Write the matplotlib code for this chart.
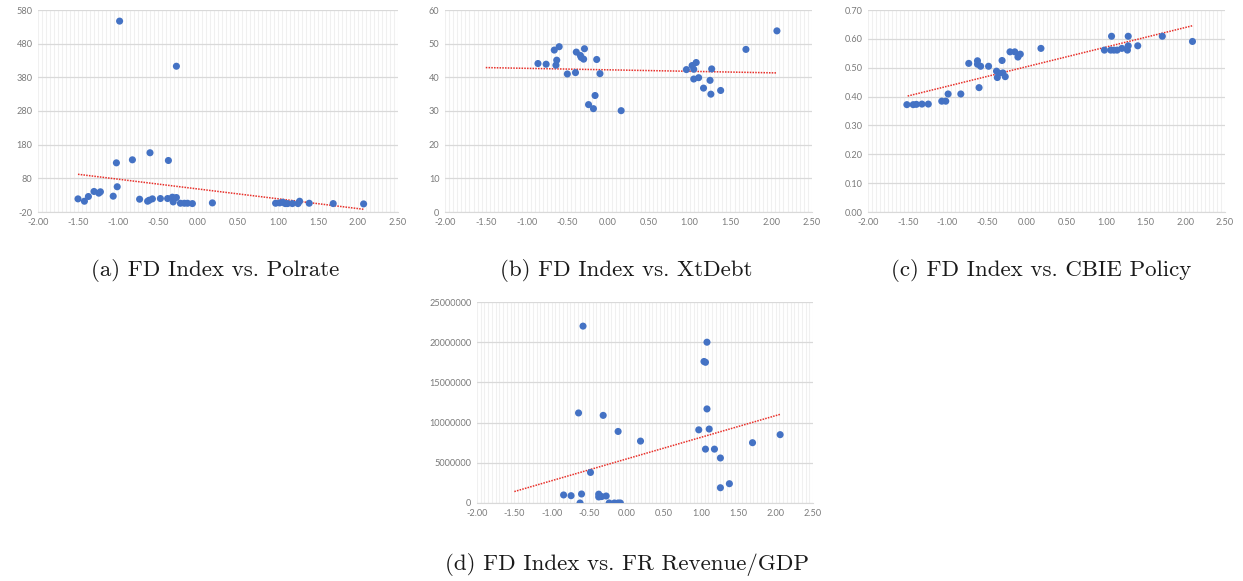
import numpy as np
import matplotlib
matplotlib.use("Agg")
import matplotlib.pyplot as plt
from matplotlib.ticker import MultipleLocator, FixedLocator, FormatStrFormatter, FuncFormatter

# FD Index (x) against four policy variables

polrate_x = [-1.50, -1.42, -1.37, -1.30, -1.24, -1.22, -1.06, -1.01, -1.02, -0.98, -0.82, -0.73,
             -0.63, -0.61, -0.57, -0.60, -0.47, -0.38, -0.37, -0.32, -0.27, -0.31, -0.27, -0.22,
             -0.17, -0.13, -0.07, 0.18, 0.97, 1.02, 1.06, 1.09, 1.12, 1.18, 1.25, 1.27, 1.39,
             1.69, 2.07]
polrate_y = [19, 12, 26, 41, 36, 40, 27, 55, 126, 547, 135, 18,
             12, 15, 19, 156, 20, 20, 133, 24, 23, 10, 413, 6,
             6, 6, 5, 7, 6, 7, 9, 5, 5, 5, 5, 12, 6,
             5, 4]

xtdebt_x = [-0.86, -0.76, -0.66, -0.60, -0.63, -0.64, -0.50, -0.40, -0.39, -0.34, -0.33, -0.30,
            -0.29, -0.24, -0.18, -0.16, -0.14, -0.10, 0.16, 0.96, 1.03, 1.05, 1.08, 1.05,
            1.11, 1.17, 1.25, 1.27, 1.26, 1.38, 1.69, 2.07]
xtdebt_y = [44.1, 43.9, 48.1, 49.1, 45.1, 43.6, 41.0, 41.4, 47.5, 46.5, 45.9, 45.4,
            48.5, 31.9, 30.7, 34.6, 45.3, 41.1, 30.1, 42.3, 43.5, 42.4, 44.4, 39.5,
            39.9, 36.8, 39.1, 42.5, 35.0, 36.1, 48.3, 53.8]

cbie_x = [-1.51, -1.43, -1.39, -1.32, -1.24, -1.07, -1.02, -0.99, -0.83, -0.73, -0.62, -0.62,
          -0.58, -0.60, -0.48, -0.38, -0.37, -0.35, -0.31, -0.30, -0.27, -0.21, -0.15, -0.11,
          -0.08, 0.18, 0.98, 1.06, 1.07, 1.10, 1.14, 1.20, 1.27, 1.28, 1.28, 1.40, 1.71, 2.09]
cbie_y = [0.372, 0.372, 0.373, 0.374, 0.374, 0.384, 0.384, 0.409, 0.409, 0.515, 0.524, 0.512,
          0.505, 0.431, 0.505, 0.488, 0.466, 0.481, 0.525, 0.482, 0.469, 0.555, 0.555, 0.537,
          0.547, 0.567, 0.561, 0.561, 0.609, 0.561, 0.561, 0.567, 0.561, 0.609, 0.576, 0.576,
          0.609, 0.591]

revenue_x = [-0.84, -0.74, -0.64, -0.62, -0.60, -0.58, -0.48, -0.37, -0.37, -0.33, -0.31, -0.27,
             -0.23, -0.16, -0.11, -0.08, -0.11, 0.19, 0.97, 1.04, 1.06, 1.08, 1.08, 1.06,
             1.11, 1.18, 1.26, 1.26, 1.38, 1.69, 2.06]
revenue_y = [1000000, 910000, 11200000, 0, 1120000, 22000000, 3800000, 1100000, 750000, 800000,
             10900000, 870000, 0, 0, 0, 0, 8900000, 7700000, 9100000, 17600000, 17500000,
             20000000, 11700000, 6700000, 9200000, 6700000, 5600000, 1900000, 2400000,
             7500000, 8500000]

captions = ["(a) FD Index vs. Polrate", "(b) FD Index vs. XtDebt",
            "(c) FD Index vs. CBIE Policy", "(d) FD Index vs. FR Revenue/GDP"]

W, H = 1243, 581
fig = plt.figure(figsize=(W / 100, H / 100), dpi=100)

BLUE = "#4472C4"
TEXT = "#7a7a7a"
trend_start = min(polrate_x)


def px_axes(left, top, right, bottom):
    return fig.add_axes([left / W, 1 - bottom / H, (right - left) / W, (bottom - top) / H])


def excel_scatter(ax, x, y, ylim, ystep, yfmt):
    ax.set_xlim(-2.0, 2.5)
    ax.set_ylim(*ylim)
    ax.xaxis.set_major_locator(MultipleLocator(0.5))
    ax.xaxis.set_minor_locator(MultipleLocator(0.05))
    ax.yaxis.set_major_locator(FixedLocator(np.arange(ylim[0], ylim[1] + ystep / 2, ystep)))
    ax.xaxis.set_major_formatter(FormatStrFormatter("%.2f"))
    ax.yaxis.set_major_formatter(yfmt)
    ax.grid(True, which="minor", axis="x", color="#f0f0f0", lw=0.8)
    ax.grid(True, which="major", axis="x", color="#f0f0f0", lw=0.8)
    ax.grid(True, which="major", axis="y", color="#d9d9d9", lw=0.9)
    ax.set_axisbelow(True)
    for s in ["top", "right", "left"]:
        ax.spines[s].set_visible(False)
    ax.spines["bottom"].set_color("#d9d9d9")
    ax.tick_params(which="both", length=0, labelsize=6.6, labelcolor=TEXT, pad=4)
    for lab in ax.get_xticklabels() + ax.get_yticklabels():
        lab.set_family("Lato")

    # linear trendline over the index range
    k, b = np.polyfit(x, y, 1)
    tx = np.array([trend_start, max(x)])
    ax.plot(tx, k * tx + b, color="#e8302a", lw=1.1, ls=(0, (1, 0.8)), zorder=2)
    ax.scatter(x, y, s=26, color=BLUE, edgecolors="none", zorder=3)


def fmt(pattern):
    return FuncFormatter(lambda v, p: pattern.format(v))


ax_a = px_axes(38, 10, 398, 212)
excel_scatter(ax_a, polrate_x, polrate_y, (-20, 580), 100, fmt("{:.0f}"))
ax_b = px_axes(445, 10, 812, 212)
excel_scatter(ax_b, xtdebt_x, xtdebt_y, (0, 60), 10, fmt("{:.0f}"))
ax_c = px_axes(868, 10, 1225, 212)
excel_scatter(ax_c, cbie_x, cbie_y, (0, 0.70), 0.10, fmt("{:.2f}"))
ax_d = px_axes(477, 302, 813, 503)
excel_scatter(ax_d, revenue_x, revenue_y, (0, 25000000), 5000000, fmt("{:.0f}"))

cap_pos = [(215, 270), (626, 270), (1041, 270), (627, 564)]
for text, (cx, cy) in zip(captions, cap_pos):
    fig.text(cx / W, 1 - cy / H, text, ha="center", va="center",
             family=["cmr10"], fontsize=16.5, color="#1a1a1a")

fig.savefig("out.png", dpi=100)
